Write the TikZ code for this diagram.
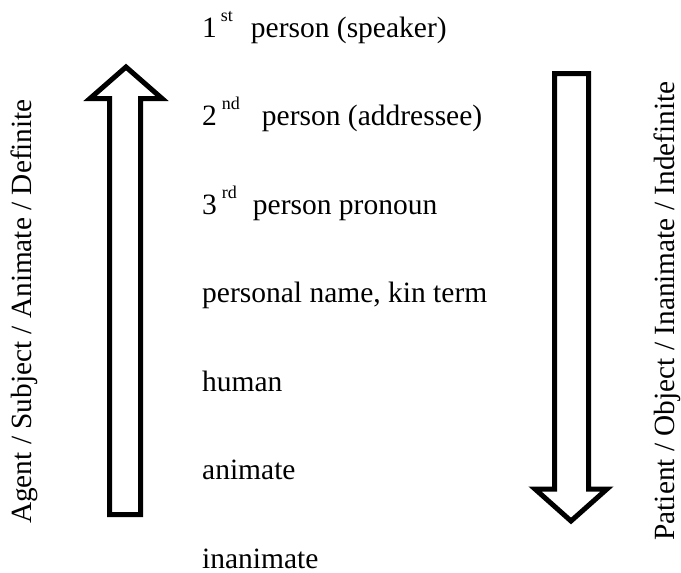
\documentclass[tikz,border=0pt]{standalone}
\usepackage{fontspec}
\setmainfont{Liberation Serif}
\newcommand{\supx}[1]{\raisebox{16pt}{\fontsize{18}{18}\selectfont #1}}
\begin{document}
\begin{tikzpicture}[x=1pt,y=-1pt,
  lbl/.style={anchor=base west,inner sep=0pt,font=\fontsize{29.5}{29.5}\selectfont},
  side/.style={inner sep=0pt,font=\fontsize{29.3}{29.3}\selectfont,rotate=90},
  bigarrow/.style={draw=black,line width=5pt,line join=miter,fill=white}]
\useasboundingbox (0,0) rectangle (681,573);
% up arrow
\draw[bigarrow] (109.5,514.5) -- (109.5,98.5) -- (90,98.5) -- (126,67) -- (162,98.5) -- (140.5,98.5) -- (140.5,514.5) -- cycle;
% down arrow
\draw[bigarrow] (554.5,73.5) -- (554.5,489) -- (535,489) -- (571,521) -- (607,489) -- (588.5,489) -- (588.5,73.5) -- cycle;
% labels
\node[lbl] (l1) at (202,37) {1\hspace{4pt}\supx{st}\hspace{18pt}person (speaker)};
\node[lbl] (l2) at (202,125.5) {2\hspace{5pt}\supx{nd}\hspace{22pt}person (addressee)};
\node[lbl] (l3) at (202,214) {3\hspace{5pt}\supx{rd}\hspace{16pt}person pronoun};
\node[lbl] (l4) at (202,302.5) {personal name, kin term};
\node[lbl] (l5) at (202,391) {human};
\node[lbl] (l6) at (202,479.5) {animate};
\node[lbl] (l7) at (202,568) {inanimate};
\node[side,anchor=base] (lt) at (31,311.5) {Agent / Subject / Animate / Definite};
\node[side,anchor=base] (rt) at (674,311) {Patient / Object / Inanimate / Indefinite};
\end{tikzpicture}
\end{document}
